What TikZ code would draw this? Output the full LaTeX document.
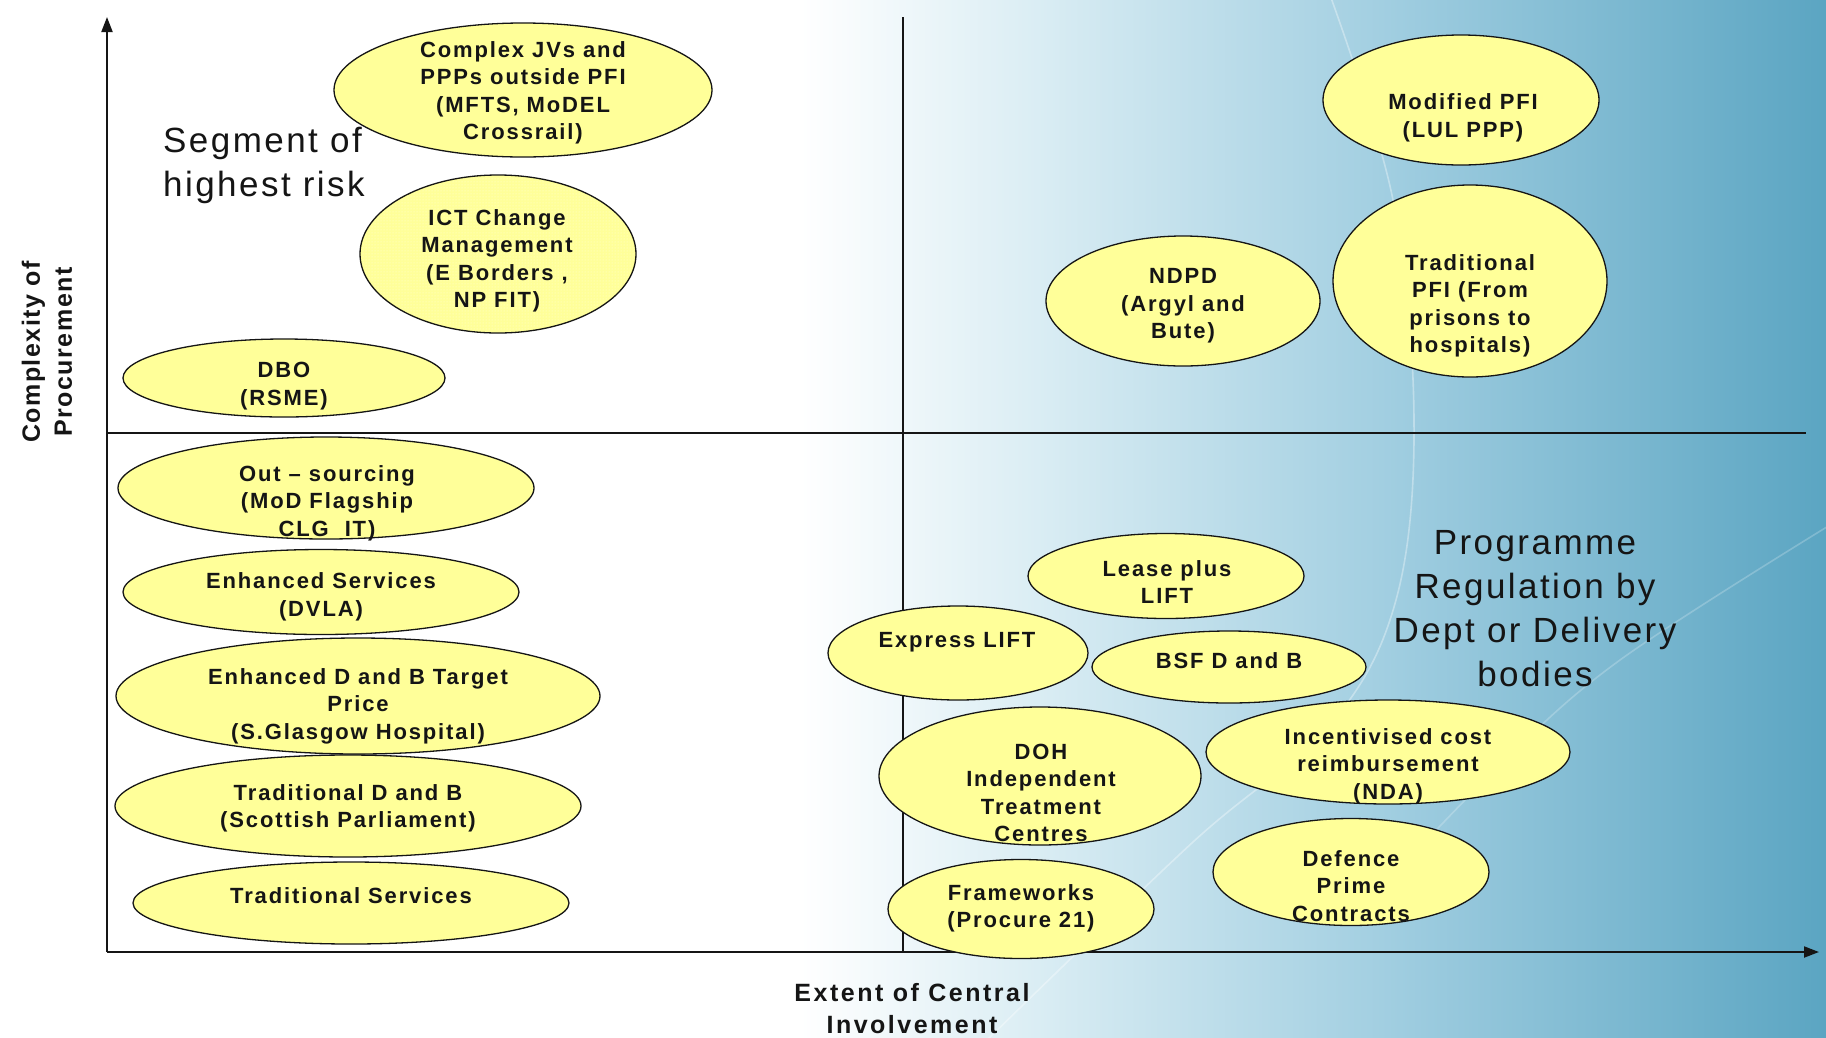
\documentclass[tikz,border=0pt]{standalone}
\usepackage{fontspec}
\setmainfont{Liberation Sans}
\newfontfamily\elfont[LetterSpace=8.5]{Liberation Sans}
\newfontfamily\xlabfont[LetterSpace=10]{Liberation Sans}
\newfontfamily\ylabfont[LetterSpace=6]{Liberation Sans}
\newfontfamily\bigfont[LetterSpace=7]{Liberation Sans}
\usetikzlibrary{shapes.geometric,arrows.meta,patterns}
\definecolor{ellfill}{HTML}{FFFF99}
\definecolor{bga}{HTML}{D8ECF3}
\definecolor{bgb}{HTML}{9FCDE0}
\definecolor{bgc}{HTML}{5BA5C2}
\definecolor{inkc}{HTML}{151515}
\begin{document}
\begin{tikzpicture}[x=1pt,y=-1pt,
  ell/.style={ellipse,draw=inkc,fill=ellfill,line width=1.3pt,inner sep=0pt},
  etext/.style={align=center,text=inkc,font=\elfont\bfseries\fontsize{22}{27.4}\selectfont,inner sep=0pt,yshift=-3pt},
  bigtext/.style={text=inkc,font=\bigfont\fontsize{35}{44}\selectfont,inner sep=0pt},
  xlabel/.style={align=center,text=inkc,font=\xlabfont\bfseries\fontsize{25}{32}\selectfont,inner sep=0pt},
  ylabel/.style={align=center,text=inkc,font=\ylabfont\bfseries\fontsize{25}{32}\selectfont,inner sep=0pt},
  axisline/.style={draw=inkc,line width=2pt},
  divline/.style={draw=inkc,line width=1.5pt},
  arrowtip/.style={-{Triangle[length=15pt,width=11pt]}}
]
\useasboundingbox (0,0) rectangle (1826,1037);
% background
\fill[white] (0,0) rectangle (1826,1037);
\shade[left color=white,right color=bga] (800,0) rectangle (1050,1037);
\shade[left color=bga,right color=bgb] (1049,0) rectangle (1400,1037);
\shade[left color=bgb,right color=bgc] (1399,0) rectangle (1826,1037);
\draw[white,opacity=0.35,line width=1.6pt] plot[smooth,tension=0.6] coordinates
  {(1330,-5) (1393,200) (1414,420) (1396,600) (1330,725) (1193,842) (985,1042)};
\draw[white,opacity=0.22,line width=1.6pt] plot[smooth,tension=0.6] coordinates
  {(1380,890) (1500,765) (1620,660) (1830,525)};

% axes and dividers
\coordinate (O) at (107,952);
\coordinate (Ytop) at (107,17);
\coordinate (Xend) at (1819,952);
\coordinate (vtop) at (903,17);
\coordinate (vbot) at (903,952);
\coordinate (hl) at (107,433);
\coordinate (hr) at (1806,433);
\draw[divline] (vtop) -- (vbot);
\draw[divline] (hl) -- (hr);
\draw[axisline,arrowtip] (O) -- (Ytop);
\draw[axisline,arrowtip] (O) -- (Xend);

% ellipses
\node[ell,minimum width=378pt,minimum height=134pt] (e1) at (523,90) {};
\node[ell,minimum width=276pt,minimum height=158pt] (e2) at (498,254) {};
\node[pattern=dots,pattern color=white,ellipse,inner sep=0pt,minimum width=272pt,minimum height=154pt,opacity=0.6] (e2p) at (498,254) {};
\node[ell,minimum width=322pt,minimum height=78pt] (e3) at (284,378) {};
\node[ell,minimum width=416pt,minimum height=102pt] (e4) at (326,488) {};
\node[ell,minimum width=396pt,minimum height=85pt] (e5) at (321,592) {};
\node[ell,minimum width=484pt,minimum height=116pt] (e6) at (358,696) {};
\node[ell,minimum width=466pt,minimum height=102pt] (e7) at (348,806) {};
\node[ell,minimum width=436pt,minimum height=82pt] (e8) at (351,903) {};
\node[ell,minimum width=276pt,minimum height=130pt] (e9) at (1461,100) {};
\node[ell,minimum width=274pt,minimum height=130pt] (e10) at (1183,301) {};
\node[ell,minimum width=274pt,minimum height=192pt] (e11) at (1470,281) {};
\node[ell,minimum width=276pt,minimum height=85pt] (e12) at (1166,576) {};
\node[ell,minimum width=260pt,minimum height=94pt] (e13) at (958,653) {};
\node[ell,minimum width=274pt,minimum height=72pt] (e14) at (1229,667) {};
\node[ell,minimum width=322pt,minimum height=138pt] (e15) at (1040,776) {};
\node[ell,minimum width=364pt,minimum height=104pt] (e16) at (1388,752) {};
\node[ell,minimum width=266pt,minimum height=99pt] (e17) at (1021,909) {};
\node[ell,minimum width=276pt,minimum height=107pt] (e18) at (1351,872) {};

% ellipse texts
\node[etext] (t1) at (523,90) {Complex JVs and\\PPPs outside PFI\\(MFTS, MoDEL\\Crossrail)};
\node[etext] (t2) at (497,258) {ICT Change\\Management\\(E Borders ,\\NP FIT)};
\node[etext] (t3) at (284,383) {DBO\\(RSME)};
\node[etext] (t4) at (327,500) {Out – sourcing\\(MoD Flagship\\CLG\ \ IT)};
\node[etext] (t5) at (321,594) {Enhanced Services\\(DVLA)};
\node[etext] (t6) at (358,703) {Enhanced D and B Target\\Price\\(S.Glasgow Hospital)};
\node[etext] (t7) at (348,805) {Traditional D and B\\(Scottish Parliament)};
\node[etext] (t8) at (351,893) {Traditional Services};
\node[etext] (t9) at (1463,115) {Modified PFI\\(LUL PPP)};
\node[etext] (t10) at (1183,303) {NDPD\\(Argyl and\\Bute)};
\node[etext] (t11) at (1470,303) {Traditional\\PFI (From\\prisons to\\hospitals)};
\node[etext] (t12) at (1167,579) {Lease plus\\LIFT};
\node[etext] (t13) at (957,639) {Express LIFT};
\node[etext] (t14) at (1229,658) {BSF D and B};
\node[etext] (t15) at (1041,790) {DOH\\Independent\\Treatment\\Centres};
\node[etext] (t16) at (1388,763) {Incentivised cost\\reimbursement\\(NDA)};
\node[etext] (t17) at (1021,905) {Frameworks\\(Procure 21)};
\node[etext] (t18) at (1351,883) {Defence\\Prime\\Contracts};

% big labels
\node[bigtext,align=left,anchor=west] (seg) at (163,165) {Segment of\\highest risk};
\node[bigtext,align=center] (prog) at (1535,609) {Programme\\Regulation by\\Dept or Delivery\\bodies};

% axis labels
\node[ylabel,rotate=90] (ylab) at (47,352) {Complexity of\\Procurement};
\node[xlabel] (xlab) at (912,1009) {Extent of Central\\Involvement};
\end{tikzpicture}
\end{document}
